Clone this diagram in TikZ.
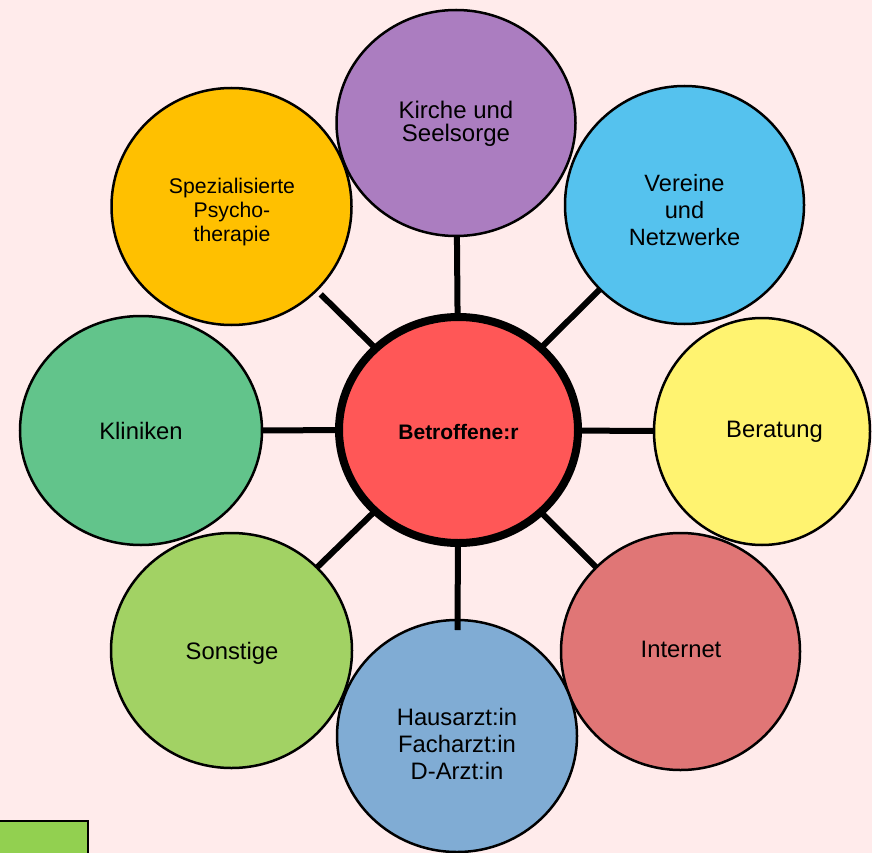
\documentclass[tikz,border=0pt]{standalone}
\usepackage{fontspec}
\setmainfont{Liberation Sans}
\usetikzlibrary{shapes.geometric,calc}
\definecolor{bg}{HTML}{FFEBEB}
\definecolor{ckir}{HTML}{AB7DC0}
\definecolor{cver}{HTML}{55C2EE}
\definecolor{cber}{HTML}{FFF370}
\definecolor{cint}{HTML}{E07676}
\definecolor{chau}{HTML}{80ACD4}
\definecolor{cson}{HTML}{A2D264}
\definecolor{ckli}{HTML}{62C48B}
\definecolor{cspe}{HTML}{FFC000}
\definecolor{ccen}{HTML}{FF5757}
\definecolor{crect}{HTML}{92D050}
\tikzset{
  bubble/.style={ellipse, draw=black, line width=2.5pt, inner sep=0pt, outer sep=0pt},
  hub/.style={ellipse, draw=black, line width=8pt, fill=ccen, inner sep=0pt, outer sep=0pt},
  lbl/.style={align=center, inner sep=0pt, font=\fontsize{23.8}{27}\selectfont},
  spoke/.style={line width=6pt, black},
}
\begin{document}
\begin{tikzpicture}[x=1pt,y=-1pt]
\fill[bg] (0,0) rectangle (872,853);
\useasboundingbox (0,0) rectangle (872,853);
% bubbles
\node[bubble, fill=ckir, minimum width=239pt, minimum height=226pt] (kir) at (456,123) {};
\node[bubble, fill=cver, minimum width=239pt, minimum height=238pt] (ver) at (684.5,205) {};
\node[bubble, fill=cber, minimum width=216pt, minimum height=227pt] (ber) at (762,431.5) {};
\node[bubble, fill=cint, minimum width=239pt, minimum height=237pt] (int) at (680.5,651.5) {};
\node[bubble, fill=chau, minimum width=240pt, minimum height=232pt] (hau) at (457,736) {};
\node[bubble, fill=cson, minimum width=241pt, minimum height=235pt] (son) at (231.5,650.5) {};
\node[bubble, fill=ckli, minimum width=242pt, minimum height=229pt] (kli) at (141,430.5) {};
\node[bubble, fill=cspe, minimum width=240pt, minimum height=237pt] (spe) at (231.5,206.5) {};
\node[hub, minimum width=239pt, minimum height=226pt] (cen) at (458.5,430) {};
% spokes
\draw[spoke] (cen) -- (kir);
\draw[spoke] (cen) -- (ver);
\draw[spoke] (cen) -- (ber);
\draw[spoke] (cen) -- (int);
\draw[spoke, shorten >=-10pt] (cen) -- (hau);
\draw[spoke] (cen) -- (son);
\draw[spoke] (cen) -- (kli);
\draw[spoke, shorten >=6pt] (cen) -- (spe);
% labels
\node[lbl, font=\fontsize{24}{23.5}\selectfont] (tkir) at ($(kir)+(0,1)$) {Kirche und\\Seelsorge};
\node[lbl, font=\fontsize{23.6}{27}\selectfont] (tver) at ($(ver)+(0,5)$) {Vereine\\und\\Netzwerke};
\node[lbl] (tber) at ($(ber)+(12.5,0.5)$) {Beratung};
\node[lbl] (tint) at ($(int)+(0.5,-2)$) {Internet};
\node[lbl, font=\fontsize{23.8}{26.7}\selectfont] (thau) at ($(hau)+(0,8)$) {Hausarzt:in\\Facharzt:in\\D-Arzt:in};
\node[lbl] (tson) at ($(son)+(0.5,2.5)$) {Sonstige};
\node[lbl] (tkli) at ($(kli)+(0,0)$) {Kliniken};
\node[lbl, font=\fontsize{21.2}{24}\selectfont] (tspe) at ($(spe)+(0.5,6)$) {Spezialisierte\\Psycho-\\therapie};
\node[lbl, font=\bfseries\fontsize{21}{24}\selectfont] (tcen) at ($(cen)+(0,2)$) {Betroffene:r};
% green box bottom left
\draw[fill=crect, draw=black, line width=2.5pt] (-5,821) rectangle (88,870);
\end{tikzpicture}
\end{document}
